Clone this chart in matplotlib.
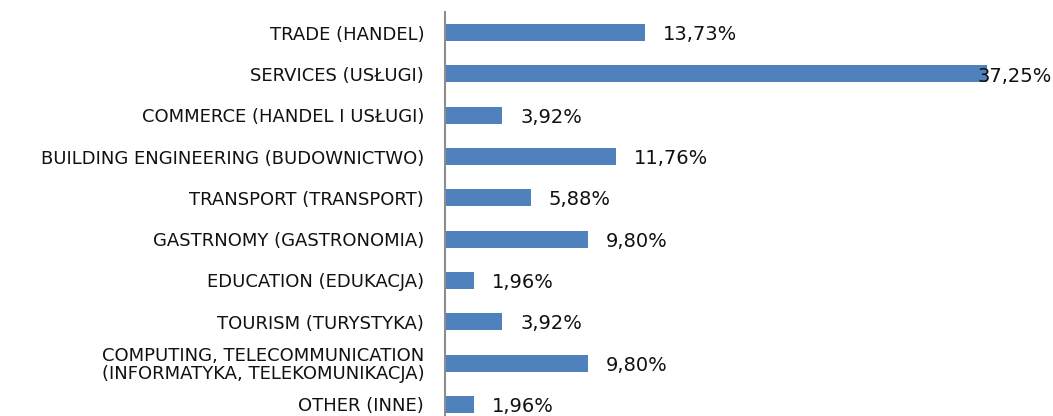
import matplotlib
matplotlib.use("Agg")
import matplotlib.pyplot as plt

# Dane: udział branż (w %)
kategorie = [
    "TRADE (HANDEL)",
    "SERVICES (USŁUGI)",
    "COMMERCE (HANDEL I USŁUGI)",
    "BUILDING ENGINEERING (BUDOWNICTWO)",
    "TRANSPORT (TRANSPORT)",
    "GASTRNOMY (GASTRONOMIA)",
    "EDUCATION (EDUKACJA)",
    "TOURISM (TURYSTYKA)",
    "COMPUTING, TELECOMMUNICATION\n(INFORMATYKA, TELEKOMUNIKACJA)",
    "OTHER (INNE)",
]
wartosci = [13.73, 37.25, 3.92, 11.76, 5.88, 9.80, 1.96, 3.92, 9.80, 1.96]
etykiety = ["13,73%", "37,25%", "3,92%", "11,76%", "5,88%",
            "9,80%", "1,96%", "3,92%", "9,80%", "1,96%"]

plt.rcParams["font.family"] = ["DejaVu Sans"]

fig = plt.figure(figsize=(10.53, 4.16), dpi=100)
ax = fig.add_axes([445 / 1053, -9 / 416, 1 - 445 / 1053, 413 / 416])

y = list(range(len(kategorie)))
ax.barh(y, wartosci, height=0.41, color="#4F81BD")

xmax = (1053 - 445) / 14.55
ax.set_xlim(0, xmax)
ax.set_ylim(len(kategorie) - 0.5, -0.5)

ax.set_yticks(y)
ax.set_yticklabels(kategorie, fontsize=13, color="#111111", linespacing=1.0)
ax.tick_params(axis="y", length=0, pad=15)
ax.set_xticks([])

for s in ["top", "right", "bottom"]:
    ax.spines[s].set_visible(False)
ax.spines["left"].set_color("#8c8c8c")
ax.spines["left"].set_linewidth(1.5)

# etykiety wartości
for i, (v, t) in enumerate(zip(wartosci, etykiety)):
    if v + 8 > xmax:
        ax.text(xmax - 0.1, i + 0.05, t, ha="right", va="center",
                fontsize=14, color="#111111")
    else:
        ax.annotate(t, (v, i + 0.05), xytext=(13, 0), textcoords="offset points",
                    ha="left", va="center", fontsize=14, color="#111111")

fig.savefig("out.png", dpi=100)
